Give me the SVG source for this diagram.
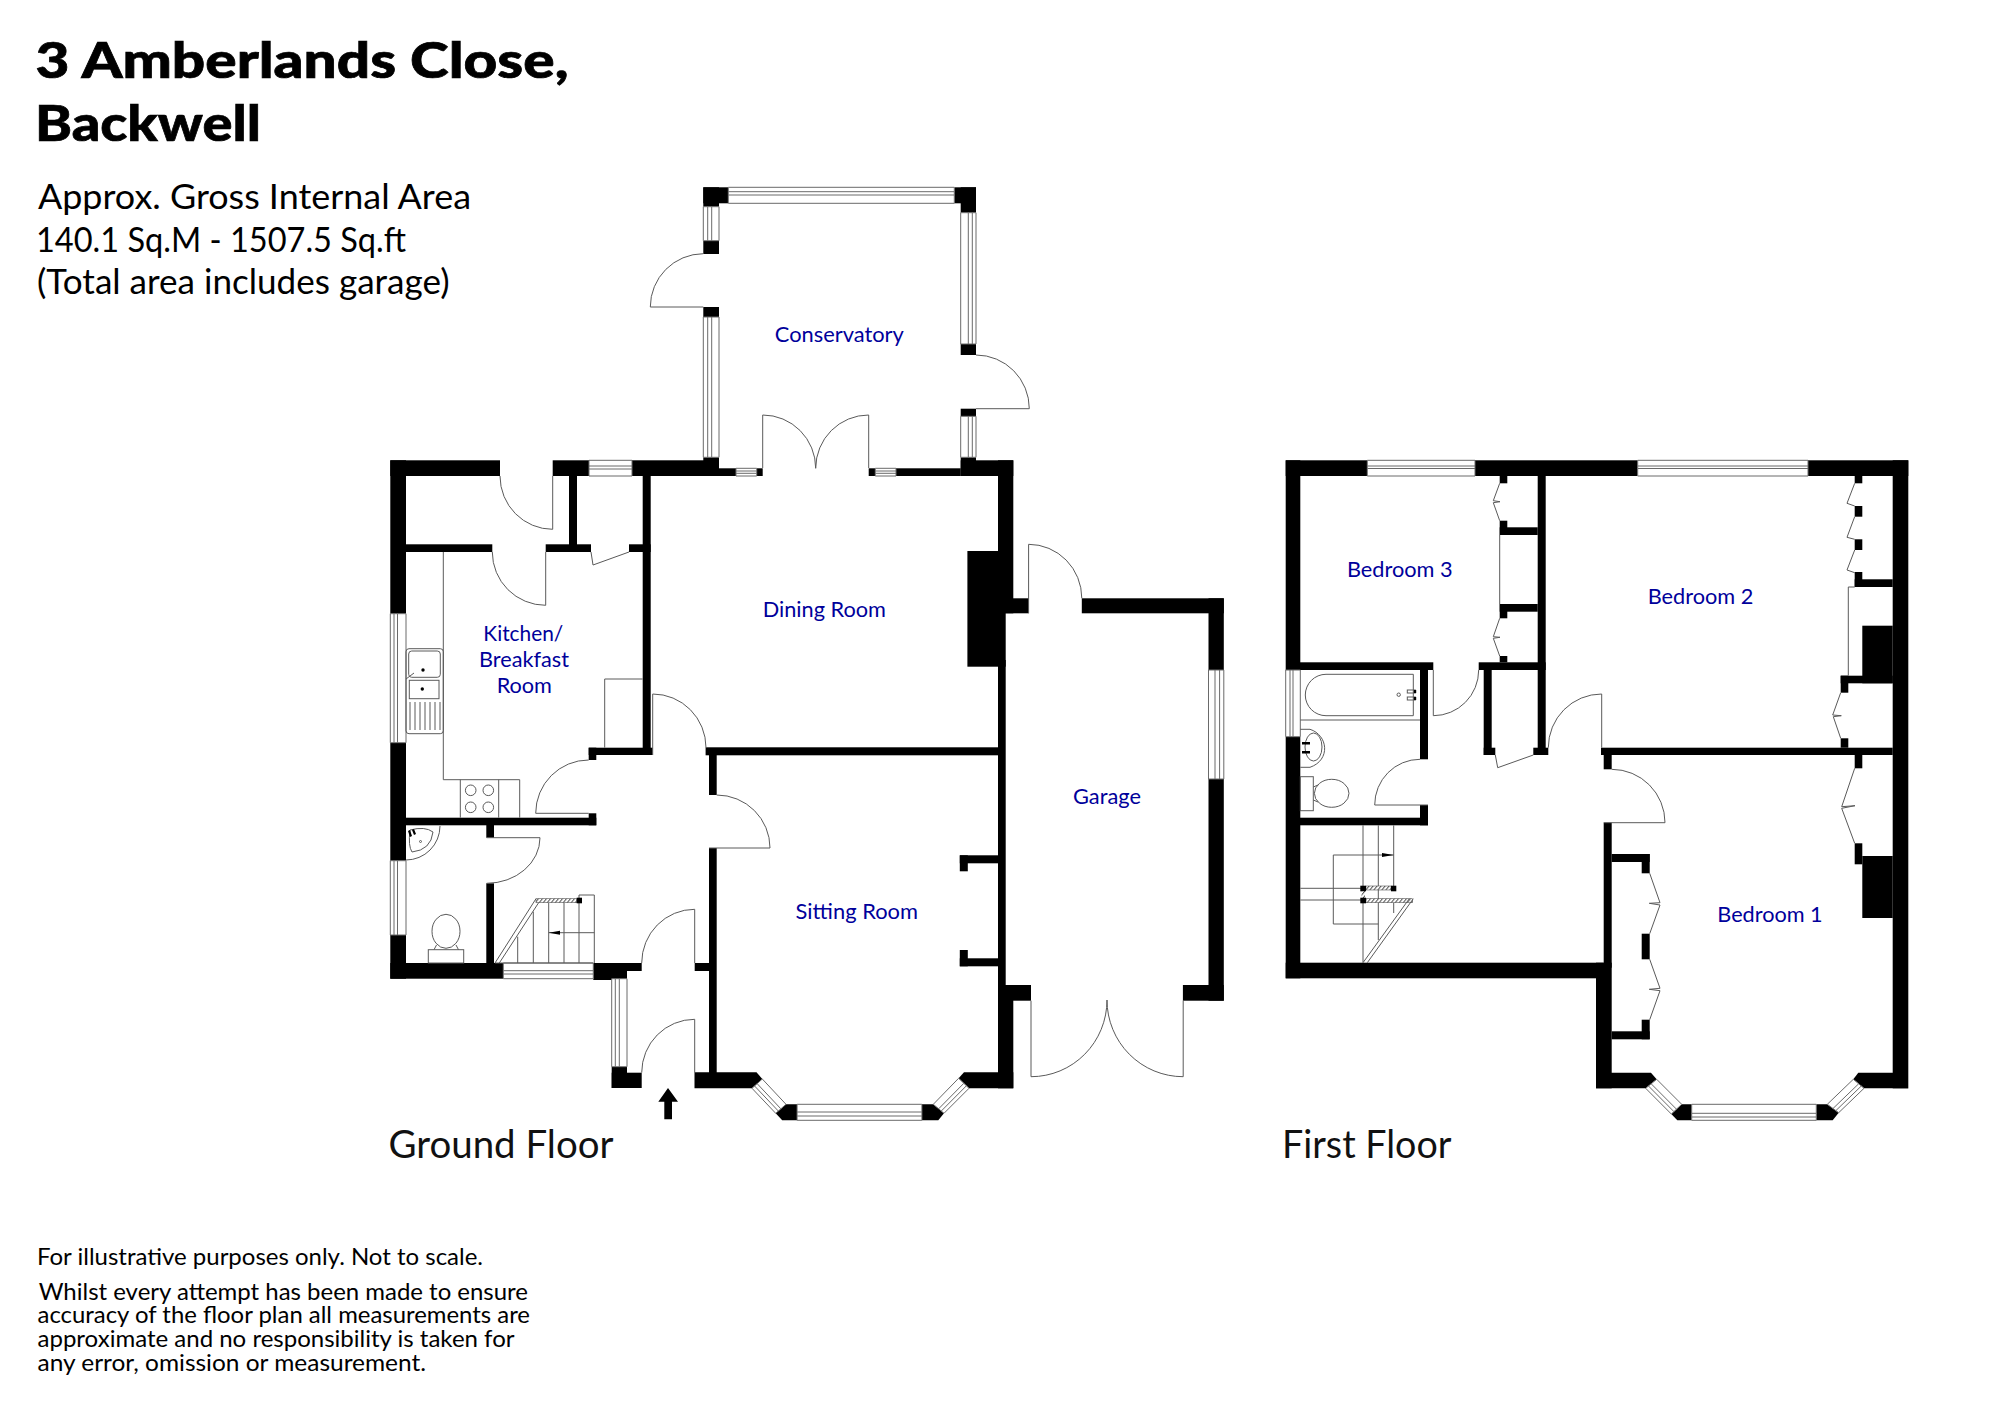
<svg xmlns="http://www.w3.org/2000/svg" width="2000" height="1415" viewBox="0 0 2000 1415">
<style>
.w{fill:#000}
.l{fill:none;stroke:#5a5a5a;stroke-width:1}
.g{fill:#fff;stroke:#6a6a6a;stroke-width:1}
.t{font-family:"Lato","Liberation Sans",sans-serif;fill:#000}
.h1{font-size:50px;font-weight:900;stroke:#000;stroke-width:.7}
.h2{font-size:35px}
.h3{font-size:23px}
.f{font-size:38px;fill:#111}
.r{font-family:"Lato","Liberation Sans",sans-serif;font-size:20.5px;fill:#00009b;text-anchor:middle}
</style>
<defs>
<pattern id="hatch" width="4" height="4" patternUnits="userSpaceOnUse" patternTransform="skewX(-40)">
<rect width="4" height="4" fill="#fff"/><rect width="1.200" height="4" fill="#444"/>
</pattern>
</defs>
<rect width="2000" height="1415" fill="#fff"/>

<g id="header">
<text class="t h1" x="35.500" y="78.300" textLength="533" lengthAdjust="spacingAndGlyphs">3 Amberlands Close,</text>
<text class="t h1" x="35" y="141" textLength="226" lengthAdjust="spacingAndGlyphs">Backwell</text>
<text class="t h2" x="38" y="209" textLength="433" lengthAdjust="spacingAndGlyphs">Approx. Gross Internal Area</text>
<text class="t h2" x="36" y="251.700" textLength="370" lengthAdjust="spacingAndGlyphs">140.1 Sq.M - 1507.5 Sq.ft</text>
<text class="t h2" x="37" y="294" textLength="412.500" lengthAdjust="spacingAndGlyphs">(Total area includes garage)</text>
</g>

<g id="ground-walls">
<rect class="w" x="390.300" y="460.300" width="109.700" height="15.700"/>
<rect class="w" x="552.700" y="460.300" width="36.300" height="15.700"/>
<rect class="w" x="632" y="460.300" width="87" height="15.700"/>
<rect class="w" x="719" y="468.300" width="17" height="7.700"/>
<rect class="w" x="756.700" y="468.300" width="6" height="7.700"/>
<rect class="w" x="868.700" y="468.300" width="6.600" height="7.700"/>
<rect class="w" x="896" y="468.300" width="64.700" height="7.700"/>
<rect class="w" x="960.700" y="460.300" width="52.600" height="15.700"/>
<rect class="w" x="998" y="460.300" width="15.300" height="153"/>
<rect class="w" x="967.400" y="551" width="38.300" height="115.700"/>
<rect class="w" x="998" y="660" width="7.700" height="330"/>
<rect class="w" x="998" y="985" width="33" height="15.700"/>
<rect class="w" x="998" y="990" width="15.300" height="98.300"/>
<rect class="w" x="1005" y="598.300" width="23.600" height="15"/>
<rect class="w" x="390.300" y="460.300" width="15.700" height="153.400"/>
<rect class="w" x="390.300" y="742.700" width="15.700" height="118"/>
<rect class="w" x="390.300" y="935" width="15.700" height="43.700"/>
<rect class="w" x="390.300" y="963" width="113" height="15.700"/>
<rect class="w" x="406" y="544.300" width="86.300" height="7.700"/>
<rect class="w" x="545.700" y="544.300" width="45.300" height="7.700"/>
<rect class="w" x="629" y="544.300" width="21.700" height="7.700"/>
<rect class="w" x="569" y="476" width="8" height="70"/>
<rect class="w" x="642.700" y="476" width="8" height="279"/>
<rect class="w" x="588.700" y="747.700" width="64" height="7.300"/>
<rect class="w" x="588.700" y="747.700" width="7.600" height="12.300"/>
<rect class="w" x="406" y="817.700" width="190.300" height="7.600"/>
<rect class="w" x="588.700" y="813.300" width="7.600" height="12"/>
<rect class="w" x="486.300" y="825" width="7.700" height="12.700"/>
<rect class="w" x="486.300" y="883.300" width="7.700" height="80"/>
<rect class="w" x="593.300" y="963" width="48.400" height="8"/>
<rect class="w" x="593.300" y="963" width="33.700" height="17"/>
<rect class="w" x="611.700" y="1066.700" width="15.300" height="21.300"/>
<rect class="w" x="611.700" y="1072.700" width="30" height="15.300"/>
<rect class="w" x="694.700" y="963" width="14.300" height="8"/>
<rect class="w" x="709" y="848" width="7.700" height="225"/>
<rect class="w" x="709" y="755" width="7.700" height="40"/>
<rect class="w" x="705.600" y="747.300" width="292.400" height="8"/>
<polygon class="w" points="694.500,1072.300 756.500,1072.300 762.300,1079 752,1088.300 694.500,1088.300"/>
<rect class="w" x="959.800" y="855.300" width="38.200" height="8"/>
<rect class="w" x="959.800" y="855.300" width="8" height="16"/>
<rect class="w" x="959.800" y="958.300" width="38.200" height="8"/>
<rect class="w" x="959.800" y="950" width="8" height="16.300"/>
<polygon class="w" points="964,1072.300 1013.300,1072.300 1013.300,1088.300 969,1088.300 958.600,1078.300"/>
<polygon class="w" points="786,1104.300 797.100,1104.300 797.100,1120.300 782.200,1120.300 775.700,1113.300"/>
<polygon class="w" points="921.900,1104.300 933.300,1104.300 944,1113.300 938.300,1120.300 921.900,1120.300"/>
<rect class="w" x="1081.800" y="598.300" width="142" height="15"/>
<rect class="w" x="1208.500" y="598.300" width="15.300" height="71.700"/>
<rect class="w" x="1208.500" y="779" width="15.300" height="221.700"/>
<rect class="w" x="1182.900" y="985" width="40.900" height="15.700"/>
<rect class="w" x="703.300" y="187.300" width="25" height="16"/>
<rect class="w" x="703.300" y="187.300" width="15.700" height="19.400"/>
<rect class="w" x="954.300" y="187.300" width="21.700" height="16"/>
<rect class="w" x="960.700" y="187.300" width="15.300" height="25.400"/>
<rect class="w" x="703.300" y="240.700" width="15.700" height="13.300"/>
<rect class="w" x="703.300" y="307" width="15.700" height="10"/>
<rect class="w" x="703.300" y="457.300" width="15.700" height="18.700"/>
<rect class="w" x="960.700" y="344" width="15.300" height="11"/>
<rect class="w" x="960.700" y="408.700" width="15.300" height="7.600"/>
<rect class="w" x="960.700" y="457.300" width="15.300" height="18.700"/>
</g>

<g id="ground-windows">
<path class="g" d="M589,460.300H632V476H589ZM589,466H632M589,469H632"/>
<path class="g" d="M728.300,187.300H954.300V203.300H728.300ZM728.300,191.700H954.300M728.300,195H954.300"/>
<path class="g" d="M703.300,206.700H719V240.700H703.300ZM707.700,206.700V240.700M711.700,206.700V240.700"/>
<path class="g" d="M703.300,317H719V457.300H703.300ZM707.700,317V457.300M711.700,317V457.300"/>
<path class="g" d="M960.700,212.700H976V344H960.700ZM968.300,212.700V344M972.300,212.700V344"/>
<path class="g" d="M960.700,416.300H976V457.300H960.700ZM968.300,416.300V457.300M972.300,416.300V457.300"/>
<path class="g" d="M736,468.300H756.700V476H736ZM736,471H756.700M736,473.300H756.700"/>
<path class="g" d="M875.300,468.300H896V476H875.300ZM875.300,471H896M875.300,473.300H896"/>
<path class="g" d="M390.300,613.700H406V742.700H390.300ZM394,613.700V742.700M397.500,613.700V742.700"/>
<path class="g" d="M390.300,860.700H406V935H390.300ZM394,860.700V935M397.500,860.700V935"/>
<path class="g" d="M503.300,963H593.300V978.700H503.300ZM503.300,970.700H593.300M503.300,974H593.300"/>
<path class="g" d="M611.700,978.700H627V1066.700H611.700ZM615.300,978.700V1066.700M619.300,978.700V1066.700"/>
<path class="g" d="M1208.500,670H1223.800V779H1208.500ZM1215,670V779M1219.600,670V779"/>
<path class="g" d="M797.100,1104.300H921.900V1120.300H797.100ZM797.100,1112H921.900M797.100,1116H921.900"/>
<path class="g" d="M762.300,1079L786,1104.300 775.700,1113.300 752,1088.300ZM757.150,1083.650L780.850,1108.800M754.600,1086L778.300,1111"/>
<path class="g" d="M958.600,1078.300L933.300,1104.300 944,1113.300 969,1088.300ZM963.800,1083.300L938.650,1108.800M966.400,1085.800L941.300,1111"/>
</g>

<g id="ground-doors">
<path class="l" d="M703.300,307H650.300A53.300,53.300 0 0 1 703.300,253.700"/>
<path class="l" d="M976,408.700H1029.300A53.300,53.700 0 0 0 976,355"/>
<path class="l" d="M762.700,468V415A53,53.300 0 0 1 815.700,468.300"/>
<path class="l" d="M868.700,468V415A53,53.300 0 0 0 815.700,468.300"/>
<path class="l" d="M552.700,476V529.300A52.700,53.300 0 0 1 500,476"/>
<path class="l" d="M545.700,552V605.300A53.400,53.300 0 0 1 492.300,552"/>
<path class="l" d="M591,552L593,565 629,552"/>
<path class="l" d="M588.700,813.300H535.700A53,53.300 0 0 1 588.700,760"/>
<path class="l" d="M652.700,755V694A53.300,53.700 0 0 1 706,747.700"/>
<path class="l" d="M709,848H770A53.300,53 0 0 0 716.700,795"/>
<path class="l" d="M486.700,837.700H540A53.300,45.600 0 0 1 486.700,883.300"/>
<path class="l" d="M694.700,963V909.300A53,53.700 0 0 0 641.700,963"/>
<path class="l" d="M694.700,1072.700V1019.300A53,53.400 0 0 0 641.700,1072.700"/>
<path class="l" d="M1028.600,613.300V544.300A53.200,54 0 0 1 1081.800,598.300"/>
<path class="l" d="M1031,1000.700V1076.700A76,76.700 0 0 0 1107,1000"/>
<path class="l" d="M1183.200,1000.700V1076.700A76.200,76.700 0 0 1 1107,1000"/>
</g>

<g id="ground-fittings">
<path class="l" d="M443.300,552V779.700H519.700V817.700M460.300,779.700V817.700M498.700,779.700V817.700M604.700,747.700V679H642.700"/>
<circle class="l" cx="470.700" cy="790.300" r="5.300"/><circle class="l" cx="488.300" cy="790.300" r="5.300"/>
<circle class="l" cx="470.700" cy="807.300" r="5.300"/><circle class="l" cx="488.300" cy="807.300" r="5.300"/>
<rect class="l" x="406" y="648.700" width="37.300" height="85" rx="3"/>
<rect class="l" x="408.700" y="651" width="31.600" height="26.300" rx="3"/>
<rect class="l" x="409.300" y="680.300" width="29.700" height="18.400"/>
<circle class="w" cx="423" cy="670" r="1.700"/><circle class="w" cx="422.300" cy="689" r="1.700"/>
<path class="l" d="M410,702V730M415,702V730M420,702V730M425,702V730M430,702V730M435,702V730M440,702V730"/>
<path class="l" d="M406,679L414,673" stroke-width="2"/>
<path class="l" d="M440,826A34,34 0 0 1 406,860"/>
<path class="l" d="M410,830Q425,826 433,832Q431,850 412,852Q408,846 410,830Z"/>
<path class="w" d="M408,831l2,-1 2,6 -2,1ZM412,830l2,-1 2,5 -2,1Z"/>
<circle class="l" cx="420.500" cy="841.500" r="1"/>
<ellipse class="l" cx="446" cy="931.300" rx="14" ry="17"/>
<rect class="l" x="428.300" y="949.700" width="35.400" height="13.300"/>
<path class="l" d="M434,949.700L436.500,945M458.500,949.700L456,945"/>
<path class="l" d="M495,963L536,898.700M499.300,963L539.300,901.700M517.700,936.700V963M533.300,911.700V963M548.700,902.700V963M564,902.700V963M579,895V963M594.300,895V963M579,895H594.300M548.700,932.700H594.300M495,963H593.300"/>
<rect x="536" y="898.700" width="40.700" height="4" fill="url(#hatch)" stroke="#555" stroke-width=".6"/>
<rect class="w" x="576.700" y="897.700" width="5.300" height="5.600"/>
<polygon class="w" points="548.700,932.700 560,930.700 560,934.700"/>
<polygon class="w" points="668,1088 678,1101.700 672,1101.700 672,1119.300 664.300,1119.300 664.300,1101.700 658.300,1101.700"/>
</g>

<g id="first-walls">
<rect class="w" x="1285.700" y="460.300" width="81.600" height="15.700"/>
<rect class="w" x="1475" y="460.300" width="162.700" height="15.700"/>
<rect class="w" x="1808" y="460.300" width="100.300" height="15.700"/>
<rect class="w" x="1892.700" y="460.300" width="15.600" height="628"/>
<rect class="w" x="1285.700" y="460.300" width="14.600" height="209.700"/>
<rect class="w" x="1285.700" y="736.700" width="14.600" height="241.600"/>
<rect class="w" x="1285.700" y="962.700" width="318" height="15.600"/>
<rect class="w" x="1596" y="962.700" width="15.700" height="125.600"/>
<rect class="w" x="1300" y="662.300" width="133.300" height="7.700"/>
<rect class="w" x="1420" y="670" width="8" height="89.300"/>
<rect class="w" x="1420" y="805" width="8" height="20.300"/>
<rect class="w" x="1300" y="817.700" width="128" height="7.600"/>
<rect class="w" x="1478.700" y="662.300" width="67" height="7.700"/>
<rect class="w" x="1537.700" y="476" width="8" height="279"/>
<rect class="w" x="1483.700" y="670" width="8" height="85"/>
<rect class="w" x="1483.700" y="747.700" width="11.600" height="7.300"/>
<rect class="w" x="1533.300" y="747.700" width="15" height="7.300"/>
<rect class="w" x="1601" y="747.700" width="291.700" height="7.300"/>
<rect class="w" x="1603.700" y="755" width="8" height="14.300"/>
<rect class="w" x="1603.700" y="822.700" width="8" height="145"/>
<polygon class="w" points="1598,1072.700 1651,1072.700 1656.700,1079.300 1645.700,1088.300 1596,1088.300"/>
<polygon class="w" points="1858.300,1072.700 1895,1072.700 1908.300,1088.300 1864,1088.300 1853.300,1079.300"/>
<polygon class="w" points="1681.700,1104.300 1691.700,1104.300 1691.700,1120.300 1677.300,1120.300 1671.300,1114"/>
<polygon class="w" points="1816.300,1104.300 1827.300,1104.300 1838.700,1112.700 1832.700,1120.300 1816.300,1120.300"/>
<rect class="w" x="1611.700" y="854" width="38" height="8"/>
<rect class="w" x="1641.700" y="854" width="8" height="19.300"/>
<rect class="w" x="1641.700" y="933.700" width="8" height="25.600"/>
<rect class="w" x="1641.700" y="1019.700" width="8" height="19.600"/>
<rect class="w" x="1611.700" y="1031.300" width="38" height="8"/>
<rect class="w" x="1854.700" y="755" width="7.600" height="13.300"/>
<rect class="w" x="1854.700" y="843.300" width="7.600" height="21"/>
<rect class="w" x="1862.300" y="856" width="30.400" height="62"/>
<rect class="w" x="1854.700" y="476" width="7.600" height="7.300"/>
<rect class="w" x="1854.700" y="506" width="7.600" height="10.700"/>
<rect class="w" x="1854.700" y="539.300" width="7.600" height="10.700"/>
<rect class="w" x="1854.700" y="572" width="7.600" height="15"/>
<rect class="w" x="1854.700" y="579.300" width="38" height="7.700"/>
<rect class="w" x="1862.300" y="625.700" width="30.400" height="57.600"/>
<rect class="w" x="1840.700" y="675.700" width="52" height="7.600"/>
<rect class="w" x="1840.700" y="675.700" width="7.600" height="17"/>
<rect class="w" x="1840.700" y="738.300" width="7.600" height="9.400"/>
<rect class="w" x="1499.700" y="476" width="7.600" height="7.300"/>
<rect class="w" x="1499.700" y="520.700" width="7.600" height="14.300"/>
<rect class="w" x="1499.700" y="527.300" width="38" height="7.700"/>
<rect class="w" x="1499.700" y="604" width="38" height="7.700"/>
<rect class="w" x="1499.700" y="604" width="7.600" height="14.300"/>
<rect class="w" x="1499.700" y="656" width="7.600" height="6.300"/>
</g>

<g id="first-windows">
<path class="g" d="M1367.300,460.300H1475V476H1367.300ZM1367.300,466H1475M1367.300,468.500H1475"/>
<path class="g" d="M1637.700,460.300H1808V476H1637.700ZM1637.700,466H1808M1637.700,468.500H1808"/>
<path class="g" d="M1285.700,670H1300.300V736.700H1285.700ZM1290,670V736.700M1293,670V736.700"/>
<path class="g" d="M1691.700,1104.300H1816.300V1120.300H1691.700ZM1691.700,1113.300H1816.300M1691.700,1117H1816.300"/>
<path class="g" d="M1656.700,1079.300L1681.700,1104.300 1671.300,1114 1645.700,1088.300ZM1651.200,1083.800L1676.500,1109.200M1648.500,1086L1673.900,1111.600"/>
<path class="g" d="M1853.300,1079.300L1827.300,1104.300 1838.700,1112.700 1864,1088.300ZM1858.650,1083.800L1833,1108.500M1861.300,1086L1835.900,1110.600"/>
</g>

<g id="first-doors">
<path class="l" d="M1428,805H1374.700A45.300,45.700 0 0 1 1420,759.300"/>
<path class="l" d="M1433.300,670V715.700A45.400,45.700 0 0 0 1478.700,670"/>
<path class="l" d="M1495.300,755L1497.700,767.700 1533.300,755"/>
<path class="l" d="M1601.700,747.700V694A53.400,53.700 0 0 0 1548.300,747.700"/>
<path class="l" d="M1603.700,822.700H1665A53.300,53.400 0 0 0 1611.700,769.300"/>
<path class="l" d="M1499.700,483.300L1493.300,500.700 1500,501.700 1493.300,502.700 1499.700,520.700"/>
<path class="l" d="M1499.700,618.300L1493.300,636.700 1500,637.300 1493.300,638.300 1499.700,656"/>
<path class="l" d="M1854.700,483.300L1847,503.300 1854.700,506"/>
<path class="l" d="M1854.700,516.700L1847,537.300 1854.700,539.300"/>
<path class="l" d="M1854.700,550L1847,570 1854.700,572.700"/>
<path class="l" d="M1854.700,587H1848.300V675.700M1499.700,535V604"/>
<path class="l" d="M1840.700,692.700L1832.700,715 1841.300,715.700 1833.300,716.700 1840.700,738.300"/>
<path class="l" d="M1854.700,768.300L1841.700,806.700 1855,805.700 1841.700,808.300 1854.700,843.300"/>
<path class="l" d="M1649.700,873.300L1660,902.700 1649.300,903.300 1660,905 1649.700,933.700"/>
<path class="l" d="M1649.700,959.300L1660,988.300 1649.300,989.300 1660,990.700 1649.700,1019.700"/>
</g>

<g id="first-fittings">
<path class="l" d="M1300.300,720H1420"/>
<path class="l" d="M1413.300,674.300H1326A20.700,20.700 0 0 0 1326,715.700H1413.300Z"/>
<circle class="l" cx="1398.700" cy="694.700" r="1.700"/>
<rect class="l" x="1407.300" y="690" width="8" height="3"/><rect class="l" x="1407.300" y="697" width="8" height="3"/>
<rect class="w" x="1413.800" y="690" width="2.400" height="3"/><rect class="w" x="1413.800" y="697" width="2.400" height="3"/>
<path class="l" d="M1300.300,729.300H1310C1328,735 1331,760 1310,767.300H1300.300"/>
<ellipse class="l" cx="1313.500" cy="747" rx="8.500" ry="14"/>
<rect class="w" x="1302" y="742" width="8" height="2.500"/><rect class="w" x="1302" y="751" width="8" height="2.500"/>
<rect class="l" x="1300.300" y="776.700" width="13" height="34"/>
<ellipse class="l" cx="1331.700" cy="793.300" rx="17.300" ry="14"/>
<path class="l" d="M1313.300,787L1318,785M1313.300,800L1318,802"/>
<path class="l" d="M1363,825.300V962.700M1378.300,825.300V940M1393.700,825.300V888.300M1393.700,902.700V913M1333.300,855H1393.700M1333.300,855V924H1378.300M1300.300,888.300H1390M1300.300,900H1362"/>
<polygon class="w" points="1393.700,855 1382,853 1382,857"/>
<rect x="1366" y="886" width="25" height="4" fill="url(#hatch)" stroke="#555" stroke-width=".6"/>
<rect x="1366" y="898.700" width="46.700" height="4" fill="url(#hatch)" stroke="#555" stroke-width=".6"/>
<rect x="1361.500" y="891" width="3.500" height="7" fill="url(#hatch)"/>
<rect class="w" x="1360.300" y="885.700" width="5.700" height="5.600"/>
<rect class="w" x="1391" y="885.700" width="5.300" height="5.600"/>
<rect class="w" x="1360.300" y="897.700" width="5.700" height="5.600"/>
<path class="l" d="M1413.300,898.700L1367.300,962.700M1409.300,898.700L1363,962.700"/>
</g>

<g id="room-labels">
<text class="r" x="839.300" y="341.700" textLength="129" lengthAdjust="spacingAndGlyphs">Conservatory</text>
<text class="r" x="523.300" y="641" textLength="80" lengthAdjust="spacingAndGlyphs">Kitchen/</text>
<text class="r" x="524" y="667.300" textLength="90" lengthAdjust="spacingAndGlyphs">Breakfast</text>
<text class="r" x="524.300" y="692.700" textLength="55.300" lengthAdjust="spacingAndGlyphs">Room</text>
<text class="r" x="824.300" y="617.300" textLength="123.200" lengthAdjust="spacingAndGlyphs">Dining Room</text>
<text class="r" x="856.800" y="919" textLength="122.400" lengthAdjust="spacingAndGlyphs">Sitting Room</text>
<text class="r" x="1107" y="804.300" textLength="68" lengthAdjust="spacingAndGlyphs">Garage</text>
<text class="r" x="1399.800" y="577.300" textLength="105.700" lengthAdjust="spacingAndGlyphs">Bedroom 3</text>
<text class="r" x="1700.500" y="603.700" textLength="105.600" lengthAdjust="spacingAndGlyphs">Bedroom 2</text>
<text class="r" x="1770" y="922" textLength="105.400" lengthAdjust="spacingAndGlyphs">Bedroom 1</text>
</g>

<g id="floor-labels">
<text class="t f" x="388.500" y="1158" textLength="225" lengthAdjust="spacingAndGlyphs">Ground Floor</text>
<text class="t f" x="1282" y="1158" textLength="169.500" lengthAdjust="spacingAndGlyphs">First Floor</text>
</g>

<g id="footer">
<text class="t h3" x="37" y="1265" textLength="446" lengthAdjust="spacingAndGlyphs">For illustrative purposes only. Not to scale.</text>
<text class="t h3" x="38.700" y="1300" textLength="489.300" lengthAdjust="spacingAndGlyphs">Whilst every attempt has been made to ensure</text>
<text class="t h3" x="37.500" y="1323.300" textLength="492.500" lengthAdjust="spacingAndGlyphs">accuracy of the floor plan all measurements are</text>
<text class="t h3" x="37.500" y="1347" textLength="477" lengthAdjust="spacingAndGlyphs">approximate and no responsibility is taken for</text>
<text class="t h3" x="37.500" y="1370.700" textLength="388.500" lengthAdjust="spacingAndGlyphs">any error, omission or measurement.</text>
</g>
</svg>
